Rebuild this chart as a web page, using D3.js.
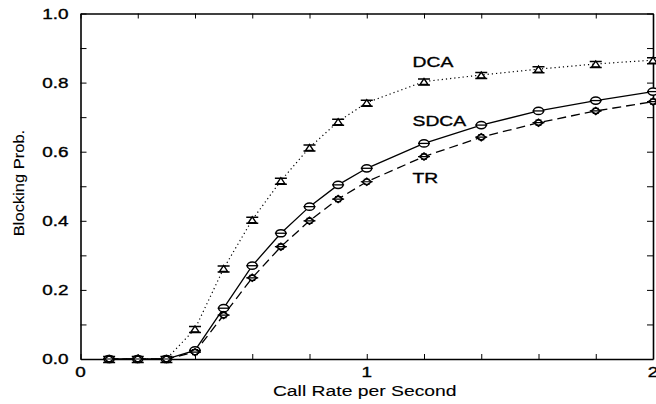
<!DOCTYPE html>
<html>
<head>
<meta charset="utf-8">
<script src="https://cdn.jsdelivr.net/npm/d3@7"></script>
<style>
  body { margin: 0; background: #fff; }
  text { font-family: "Liberation Sans", Arial, sans-serif; fill: #000; stroke: #000; stroke-width: 0.35px; }
  text.title { stroke-width: 0.1px; }
</style>
</head>
<body>
<div id="chart"></div>
<script>
// call rate values (x)
var rates = [0.1, 0.2, 0.3, 0.4, 0.5, 0.6, 0.7, 0.8, 0.9, 1.0, 1.2, 1.4, 1.6, 1.8, 2.0];
// blocking prob per scheme
var dca  = [0, 0, 0, 0.087, 0.262, 0.403, 0.516, 0.612, 0.687, 0.742, 0.803, 0.822, 0.839, 0.854, 0.865];
var sdca = [0, 0, 0, 0.025, 0.147, 0.270, 0.364, 0.441, 0.504, 0.552, 0.624, 0.677, 0.718, 0.748, 0.774];
var tr   = [0, 0, 0, 0.020, 0.127, 0.235, 0.325, 0.400, 0.463, 0.513, 0.586, 0.642, 0.684, 0.718, 0.745];
var seriesNames = ["DCA", "SDCA", "TR"];
var xTickLabels = [0, 1, 2];
var yTickLabels = [0, 0.2, 0.4, 0.6, 0.8, 1.0];

var width = 656, height = 404;
var margin = {top: 13.5, right: 3, bottom: 45, left: 80.5};

var svg = d3.select("#chart").append("svg")
    .attr("width", width)
    .attr("height", height);

var x = d3.scaleLinear().domain([0, 2]).range([margin.left, width - margin.right]);
var y = d3.scaleLinear().domain([0, 1]).range([height - margin.bottom, margin.top]);

// stretch text horizontally, the original font is wide
function stretch(sel, k) {
  sel.each(function() {
    var w = this.getComputedTextLength();
    d3.select(this).attr("textLength", w * k).attr("lengthAdjust", "spacingAndGlyphs");
  });
}

// axes, ticks inward on all four sides
var xTicks = d3.range(0, 2.001, 0.2);
var yTicks = d3.range(0, 1.001, 0.1);

svg.append("g")
    .attr("transform", "translate(0," + y(0) + ")")
    .call(d3.axisBottom(x).tickValues(xTicks).tickSizeInner(-5).tickSizeOuter(0).tickFormat(""))
    .call(function(g) { g.select(".domain").attr("stroke-width", 1.6); });
svg.append("g")
    .attr("transform", "translate(0," + y(1) + ")")
    .call(d3.axisTop(x).tickValues(xTicks).tickSizeInner(-5).tickSizeOuter(0).tickFormat(""))
    .call(function(g) { g.select(".domain").attr("stroke-width", 1.6); });
svg.append("g")
    .attr("transform", "translate(" + x(0) + ",0)")
    .call(d3.axisLeft(y).tickValues(yTicks).tickSizeInner(-6).tickSizeOuter(0).tickFormat(""))
    .call(function(g) { g.select(".domain").attr("stroke-width", 1.6); });
svg.append("g")
    .attr("transform", "translate(" + x(2) + ",0)")
    .call(d3.axisRight(y).tickValues(yTicks).tickSizeInner(-6).tickSizeOuter(0).tickFormat(""))
    .call(function(g) { g.select(".domain").attr("stroke-width", 1.6); });

// tick labels
svg.selectAll(".ylab")
    .data(yTickLabels)
    .enter()
    .append("text")
    .attr("class", "ylab")
    .attr("x", x(0) - 12)
    .attr("y", function(d) { return y(d) + 5; })
    .attr("text-anchor", "end")
    .style("font-size", "14px")
    .text(function(d) { return d.toFixed(1); })
    .call(stretch, 1.35);

svg.selectAll(".xlab")
    .data(xTickLabels)
    .enter()
    .append("text")
    .attr("class", "xlab")
    .attr("x", function(d) { return x(d); })
    .attr("y", y(0) + 18)
    .attr("text-anchor", "middle")
    .style("font-size", "14px")
    .text(function(d) { return d; })
    .call(stretch, 1.35);

// axis titles
svg.append("text")
    .attr("class", "title")
    .attr("x", x(1) - 2)
    .attr("y", y(0) + 37)
    .attr("text-anchor", "middle")
    .style("font-size", "14px")
    .text("Call Rate per Second")
    .call(stretch, 1.38);

svg.append("text")
    .attr("class", "title")
    .attr("transform", "translate(24," + 183 + ") rotate(-90)")
    .attr("text-anchor", "middle")
    .style("font-size", "15px")
    .text("Blocking Prob.")
    .call(stretch, 1.1);

// lines
var line = d3.line()
    .x(function(d) { return x(d[0]); })
    .y(function(d) { return y(d[1]); });

function pairs(vals) { return rates.map(function(r, i) { return [r, vals[i]]; }); }

svg.append("path")
    .datum(pairs(dca))
    .attr("d", line)
    .attr("fill", "none")
    .attr("stroke", "#000")
    .attr("stroke-width", 1.2)
    .attr("stroke-dasharray", "1.2,3");

svg.append("path")
    .datum(pairs(sdca))
    .attr("d", line)
    .attr("fill", "none")
    .attr("stroke", "#000")
    .attr("stroke-width", 1.3);

svg.append("path")
    .datum(pairs(tr))
    .attr("d", line)
    .attr("fill", "none")
    .attr("stroke", "#000")
    .attr("stroke-width", 1.3)
    .attr("stroke-dasharray", "9,5");

// markers
var triG = svg.selectAll(".tri")
    .data(pairs(dca))
    .enter()
    .append("g")
    .attr("transform", function(d) { return "translate(" + x(d[0]) + "," + y(d[1]) + ")"; });
triG.append("path")
    .attr("d", "M-4,3L0,-3L4,3Z")
    .attr("fill", "#fff")
    .attr("stroke", "#000")
    .attr("stroke-width", 1.4);
triG.append("path")
    .attr("d", "M-6,-2.5H6M-6,3.5H6")
    .attr("stroke", "#000")
    .attr("stroke-width", 1.5);

var circG = svg.selectAll(".circ")
    .data(pairs(sdca))
    .enter()
    .append("g")
    .attr("transform", function(d) { return "translate(" + x(d[0]) + "," + y(d[1]) + ")"; });
circG.append("ellipse")
    .attr("rx", 5)
    .attr("ry", 3.6)
    .attr("fill", "#fff")
    .attr("stroke", "#000")
    .attr("stroke-width", 1.5);
circG.append("path")
    .attr("d", "M-6,0H6")
    .attr("stroke", "#000")
    .attr("stroke-width", 1.3);

var diaG = svg.selectAll(".dia")
    .data(pairs(tr))
    .enter()
    .append("g")
    .attr("transform", function(d) { return "translate(" + x(d[0]) + "," + y(d[1]) + ")"; });
diaG.append("path")
    .attr("d", "M-4.5,0L0,-3.5L4.5,0L0,3.5Z")
    .attr("fill", "#fff")
    .attr("stroke", "#000")
    .attr("stroke-width", 1.5);
diaG.append("path")
    .attr("d", "M-6,0H6M-3,-2.5H3M-3,2.5H3")
    .attr("stroke", "#000")
    .attr("stroke-width", 1.2);

// series labels placed next to their curves
var labelPos = [[1.16, 0.845], [1.16, 0.674], [1.16, 0.51]];
svg.selectAll(".slab")
    .data(seriesNames)
    .enter()
    .append("text")
    .attr("class", "slab")
    .attr("x", function(d, i) { return x(labelPos[i][0]); })
    .attr("y", function(d, i) { return y(labelPos[i][1]); })
    .style("font-size", "14.5px")
    .text(function(d) { return d; })
    .call(stretch, 1.33);
</script>
</body>
</html>
